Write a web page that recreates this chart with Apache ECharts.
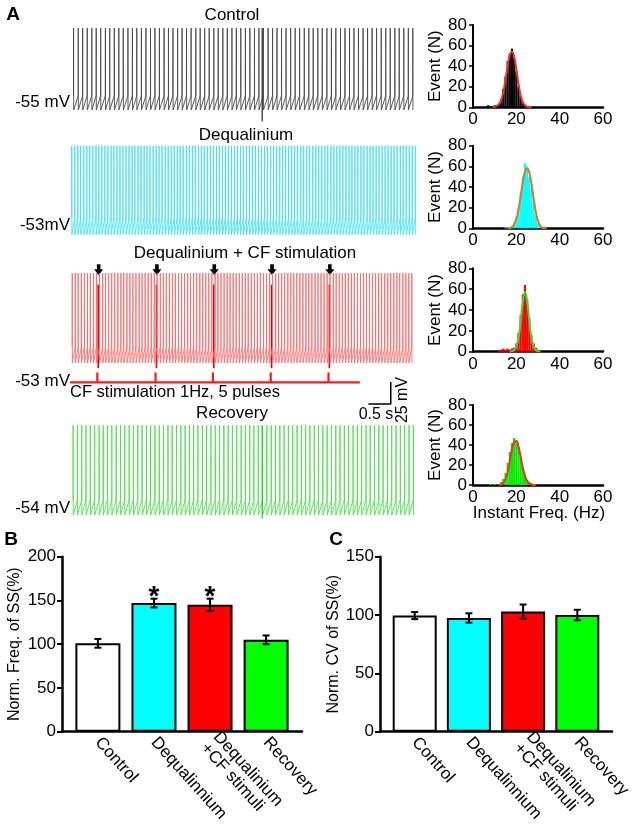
<!DOCTYPE html>
<html><head><meta charset="utf-8">
<script src="https://cdn.jsdelivr.net/npm/echarts@6/dist/echarts.min.js"></script>
<style>html,body{margin:0;padding:0;background:#fff}#c{width:638px;height:835px}</style>
</head><body><div id="c"></div>
<script>
const FONT = '"Liberation Sans", Arial, Helvetica, sans-serif';

// ---------- Panel A: spike trains (inter-spike intervals in ms) ----------
const traceTitles = ['Control', 'Dequalinium', 'Dequalinium + CF stimulation', 'Recovery'];
const restLabels = ['-55 mV', '-53mV', '-53 mV', '-54 mV'];
const restMV = [-55, -53, -53, -54];
const traceColors = ['#4a4a4a', '#3fe3f0', '#ff6b6b', '#4fe04f'];
// [threshold, peak, trough] mV
const controlLevels = [-48, 29, -64];
const dequalLevels = [-45, 37, -64];
const cfLevels = [-44, 40, -62];
const recoveryLevels = [-45, 40, -62];
const controlStart = 0.08, dequalStart = 0.04, cfStart = 0.05, recoveryStart = 0.07;
const controlISI = [104,99,101,103,98,100,105,97,102,101,99,104,100,98,103,101,102,99,100,104,98,101,103,100,99,102,105,98,100,101,103,99,102,100,104,97,101,102,100,103,99,101,104,100,98,102,101,103,100,99,105,101,98,102,100,103,101,99,104,100,102,98,101,103,100,102,99,104,101,100,103,98,102,101,100];
const dequalISI = [66,69,64,70,67,65,68,71,63,67,69,66,72,64,68,67,65,70,66,68,63,71,67,69,65,66,70,68,64,67,72,65,68,66,69,64,67,71,66,68,65,70,67,63,69,68,66,71,64,67,68,65,70,67,66,69,63,68,72,66,67,64,69,68,65,71,66,67,70,64,68,66,69,65,67,72,63,68,66,70,67,65,69,68,64,71,66,67,69,65,68,70,64,67,66,69,65,72,67,66,68,64,70,67,65,69,66,68,71,64,67,69,66,68];
const cfISI = [68,65,71,67,69,64,70,66,68,72,65,67,69,66,71,68,64,70,67,66,69,73,65,68,66,70,67,64,71,68,66,69,67,65,72,68,66,70,64,69,67,71,65,68,66,69,73,64,67,70,68,65,69,67,71,66,68,64,70,67,69,65,72,66,68,67,70,64,69,66,71,68,65,67,70,66,69,64,68,72,65,67,69,68,66,71,64,70,67,68,66,69,65,72,67,68,64,70,66,69,68,65,71,67,66,69,68,64,70,67,66,68];
const recoveryISI = [95,98,94,97,96,99,93,97,95,98,96,94,99,95,97,96,98,93,96,97,95,99,94,96,98,95,97,93,96,99,94,97,96,95,98,96,94,97,99,95,96,93,98,96,95,97,94,99,96,95,97,98,94,96,95,99,93,97,96,98,95,94,97,96,99,95,96,98,93,97,96,95,98,94,97,96,95,99,96];
// marked sweeps (darker lines) [time s, top mV, bottom mV]
const controlMark = [4.29, 29, -77];
const recoveryMark = [4.29, 40, -66];
// CF stimulation
const stimTimes = [0.61, 1.91, 3.19, 4.48, 5.77];
const stimResponse = [27, -68];       // complex-spike line top/bottom mV
const stimLineMV = -84, stimPulseMV = 11, stimLineEnd = 6.47;
const arrowMV = 44;
const scaleBar = [6.66, -108.7, 0.5, 25]; // t0, v0, 0.5 s, 25 mV

// ---------- Histograms (Instant Freq., 1 Hz bins) ----------
const controlHistBins = [7,8,9,10,11,12,13,14,15,16,17,18,19,20,21,22,23,24,25];
const controlHistCounts = [2,1,1,2,2,3,8,18,30,45,52,57,48,35,20,10,4,2,1];
const controlFitFreq = [9,10,11,12,13,14,15,16,17,18,19,20,21,22,23,24,25,26,27];
const controlFitCount = [0,0.5,1.5,3,7,15,27,40,51,54,49,37,23,12,5,2,0.5,0,0];
const dequalHistBins = [15,16,17,18,19,20,21,22,23,24,25,26,27,28,29,30,31];
const dequalHistCounts = [1,1,1,2,5,10,20,35,50,63,60,50,38,25,13,5,2];
const dequalFitFreq = [16,17,18,19,20,21,22,23,24,25,26,27,28,29,30,31,32,33,34];
const dequalFitCount = [0,0.3,1,4,9,18,31,45,55,58,54,43,29,16,7,2.5,0.5,0,0];
const cfHistBins = [12,13,14,15,16,17,18,19,20,21,22,23,24,25,26,27,28,29,30,31];
const cfHistCounts = [1,2,3,2,3,2,3,4,8,18,35,55,64,50,32,16,8,4,2,1];
const cfFitFreq = [17,18,19,20,21,22,23,24,25,26,27,28,29,30,31];
const cfFitCount = [0,0.5,1.5,5,13,29,48,57,48,29,13,5,1.5,0.5,0];
const recoveryHistBins = [8,10,12,13,14,15,16,17,18,19,20,21,22,23,24,25,26,27,28];
const recoveryHistCounts = [1,1,1,3,6,12,22,33,42,47,44,38,28,18,10,5,3,2,1];
const recoveryFitFreq = [12,13,14,15,16,17,18,19,20,21,22,23,24,25,26,27,28,29];
const recoveryFitCount = [0,0.5,2,6,13,24,36,43,44,38,28,17,9,4,1.5,0.5,0,0];
const histTicks = [0, 20, 40, 60];

// ---------- Panels B and C ----------
const barCategories = ['Control', 'Dequalinnium', 'Dequalinium\n+CF stimuli', 'Recovery'];
const freqMean = [101, 147, 145, 105];
const freqSem = [5, 5, 7, 5];
const freqSig = ['', '*', '*', ''];
const cvMean = [99.5, 97.5, 103, 100];
const cvSem = [3, 4, 6, 4.5];
const cvSig = ['', '', '', ''];
const barColors = ['#ffffff', '#00ffff', '#ff0000', '#00ff00'];

// ---------- build ----------
const K = 0.88, PXS = 44.8, TL = 70, TW = 346;
function traceGrid(anchorMV, anchorY, min, max) {
  return { left: TL, width: TW, top: anchorY - (max - anchorMV) * K, height: (max - min) * K };
}
function buildTrace(t0, isi, lv) {
  const pts = []; let t = t0;
  for (let i = 0; i <= isi.length; i++) {
    pts.push([t - 0.002, lv[0]], [t, lv[1]], [t + 0.002, lv[2]]);
    if (i < isi.length) t += isi[i] / 1000;
  }
  return pts;
}
const traceRanges = [[-85, 45], [-85, 45], [-115, 45], [-85, 45]];
const traceAnchorY = [102, 225, 355, 508];
const grids = [], xAxes = [], yAxes = [], series = [];
for (let i = 0; i < 4; i++) {
  grids.push(traceGrid(restMV[i], traceAnchorY[i], traceRanges[i][0], traceRanges[i][1]));
  xAxes.push({ gridIndex: i, type: 'value', min: 0, max: TW / PXS, show: false });
  yAxes.push({ gridIndex: i, type: 'value', min: traceRanges[i][0], max: traceRanges[i][1], show: false });
}
const traceData = [
  buildTrace(controlStart, controlISI, controlLevels),
  buildTrace(dequalStart, dequalISI, dequalLevels),
  buildTrace(cfStart, cfISI, cfLevels),
  buildTrace(recoveryStart, recoveryISI, recoveryLevels)
];
traceData.forEach((d, i) => series.push({
  type: 'line', xAxisIndex: i, yAxisIndex: i, data: d, showSymbol: false, silent: true,
  lineStyle: { color: traceColors[i], width: 0.9 }
}));
series.push({ type: 'line', xAxisIndex: 0, yAxisIndex: 0, showSymbol: false, silent: true,
  data: [[controlMark[0], controlMark[1]], [controlMark[0], controlMark[2]]], lineStyle: { color: '#222', width: 1.2 } });
series.push({ type: 'line', xAxisIndex: 3, yAxisIndex: 3, showSymbol: false, silent: true,
  data: [[recoveryMark[0], recoveryMark[1]], [recoveryMark[0], recoveryMark[2]]], lineStyle: { color: '#22cc22', width: 1.2 } });
// CF responses
series.push({ type: 'custom', xAxisIndex: 2, yAxisIndex: 2, silent: true,
  data: stimTimes.map(t => [t + 0.02]),
  renderItem: (p, api) => {
    const a = api.coord([api.value(0), stimResponse[0]]), b = api.coord([api.value(0), stimResponse[1]]);
    return { type: 'line', shape: { x1: a[0], y1: a[1], x2: b[0], y2: b[1] }, style: { stroke: '#e00000', lineWidth: 1.6 } };
  } });
// stimulation line
const stimData = [[0, stimLineMV]];
stimTimes.forEach(t => { stimData.push([t, stimLineMV], [t, stimLineMV + stimPulseMV], [t + 0.001, stimLineMV + stimPulseMV], [t + 0.001, stimLineMV]); });
stimData.push([stimLineEnd, stimLineMV]);
series.push({ type: 'line', xAxisIndex: 2, yAxisIndex: 2, data: stimData, showSymbol: false, silent: true,
  lineStyle: { color: '#ff1a1a', width: 2.2 } });
// arrows
series.push({ type: 'scatter', xAxisIndex: 2, yAxisIndex: 2, silent: true, clip: false,
  data: stimTimes.map(t => [t + 0.03, arrowMV]),
  symbol: 'path://M3,0 L7,0 L7,5 L10,5 L5,11 L0,5 L3,5 Z', symbolSize: [9, 11],
  itemStyle: { color: '#000', opacity: 1 } });
// scale bar
series.push({ type: 'line', xAxisIndex: 2, yAxisIndex: 2, showSymbol: false, silent: true,
  data: [[scaleBar[0], scaleBar[1]], [scaleBar[0] + scaleBar[2], scaleBar[1]], [scaleBar[0] + scaleBar[2], scaleBar[1] + scaleBar[3]]],
  lineStyle: { color: '#000', width: 1.5 } });

// histograms
const histTops = [25, 145.7, 268.3, 405];
const histHeights = [82.3, 82.6, 83.4, 80];
const histBars = [[controlHistBins, controlHistCounts], [dequalHistBins, dequalHistCounts], [cfHistBins, cfHistCounts], [recoveryHistBins, recoveryHistCounts]];
const histFits = [[controlFitFreq, controlFitCount], [dequalFitFreq, dequalFitCount], [cfFitFreq, cfFitCount], [recoveryFitFreq, recoveryFitCount]];
const histBarColors = ['#000000', '#00ffff', '#ff0000', '#00ee00'];
const histFitColors = ['#ff2a2a', '#e8731e', '#33dd33', '#ff2a2a'];
for (let h = 0; h < 4; h++) {
  const gi = 4 + h;
  grids.push({ left: 473, width: 130, top: histTops[h], height: histHeights[h] });
  xAxes.push({ gridIndex: gi, type: 'value', min: 0, max: 60, interval: 20,
    axisLine: { show: true, lineStyle: { color: '#000', width: 2.5 } }, axisTick: { show: false }, splitLine: { show: false },
    axisLabel: { color: '#000', fontSize: 17, fontFamily: FONT, margin: 4 } });
  yAxes.push({ gridIndex: gi, type: 'value', min: 0, max: 80, interval: 20,
    axisLine: { show: true, onZero: false, lineStyle: { color: '#000', width: 2 } },
    axisTick: { show: true, length: 4, lineStyle: { color: '#000', width: 1.5 } }, splitLine: { show: false },
    axisLabel: { color: '#000', fontSize: 17, fontFamily: FONT, margin: 6 },
    name: 'Event (N)', nameLocation: 'middle', nameGap: 29,
    nameTextStyle: { color: '#000', fontSize: 17, fontFamily: FONT } });
  const col = histBarColors[h];
  series.push({ type: 'custom', xAxisIndex: gi, yAxisIndex: gi, silent: true, z: 2,
    data: histBars[h][0].map((f, k) => [f, histBars[h][1][k]]),
    renderItem: (p, api) => {
      const f = api.value(0), c = api.value(1);
      const a = api.coord([f - 0.5, c]), b = api.coord([f + 0.5, 0]);
      return { type: 'rect', shape: { x: a[0], y: a[1], width: b[0] - a[0], height: b[1] - a[1] }, style: { fill: col } };
    } });
  series.push({ type: 'line', xAxisIndex: gi, yAxisIndex: gi, silent: true, smooth: true, showSymbol: false, z: 5,
    data: histFits[h][0].map((f, k) => [f, histFits[h][1][k]]), lineStyle: { color: histFitColors[h], width: 2 } });
}

// bar charts
function errRender(sig) {
  return (p, api) => {
    const x = api.value(0), m = api.value(1), e = api.value(2);
    const t = api.coord([x, m + e]), b = api.coord([x, m - e]);
    const hw = 3.5;
    const ch = [
      { type: 'line', shape: { x1: t[0], y1: t[1], x2: b[0], y2: b[1] }, style: { stroke: '#000', lineWidth: 2 } },
      { type: 'line', shape: { x1: t[0] - hw, y1: t[1], x2: t[0] + hw, y2: t[1] }, style: { stroke: '#000', lineWidth: 2 } },
      { type: 'line', shape: { x1: b[0] - hw, y1: b[1], x2: b[0] + hw, y2: b[1] }, style: { stroke: '#000', lineWidth: 2 } }
    ];
    if (sig[p.dataIndex]) ch.push({ type: 'text', style: { text: sig[p.dataIndex], x: t[0], y: t[1] - 1,
      textAlign: 'center', textVerticalAlign: 'middle', font: 'bold 28px ' + FONT, fill: '#000' } });
    return { type: 'group', children: ch };
  };
}
const barPanels = [
  { left: 62, width: 240, max: 200, name: 'Norm. Freq. of SS(%)', gap: 39, mean: freqMean, sem: freqSem, sig: freqSig, bw: 45 },
  { left: 380, width: 232, max: 150, name: 'Norm. CV of SS(%)', gap: 35, mean: cvMean, sem: cvSem, sig: cvSig, bw: 44 }
];
barPanels.forEach((bp, j) => {
  const gi = 8 + j;
  grids.push({ left: bp.left, width: bp.width, top: 556.7, height: 175 });
  xAxes.push({ gridIndex: gi, type: 'value', min: -0.64, max: 3.64,
    axisLine: { show: true, lineStyle: { color: '#000', width: 2.5 } }, axisTick: { show: false }, splitLine: { show: false },
    axisLabel: { customValues: [0, 1, 2, 3], formatter: v => barCategories[Math.round(v)], rotate: -48, margin: 8,
      color: '#000', fontSize: 17, fontFamily: FONT, lineHeight: 17 } });
  yAxes.push({ gridIndex: gi, type: 'value', min: 0, max: bp.max, interval: 50,
    axisLine: { show: true, onZero: false, lineStyle: { color: '#000', width: 2.5 } },
    axisTick: { show: true, length: 5, lineStyle: { color: '#000', width: 2 } }, splitLine: { show: false },
    axisLabel: { color: '#000', fontSize: 17, fontFamily: FONT, margin: 6 },
    name: bp.name, nameLocation: 'middle', nameGap: bp.gap,
    nameTextStyle: { color: '#000', fontSize: 16, fontFamily: FONT } });
  series.push({ type: 'bar', xAxisIndex: gi, yAxisIndex: gi, silent: true, barWidth: bp.bw,
    data: bp.mean.map((v, i) => [i, v]),
    itemStyle: { color: p => barColors[p.dataIndex], borderColor: '#000', borderWidth: 2 } });
  series.push({ type: 'custom', xAxisIndex: gi, yAxisIndex: gi, silent: true, z: 5,
    data: bp.mean.map((v, i) => [i, v, bp.sem[i]]), renderItem: errRender(bp.sig) });
});

// text
function txt(text, x, y, size, opts) {
  return Object.assign({ type: 'text', silent: true, style: { text, x, y, font: size + 'px ' + FONT, fill: '#000',
    textAlign: 'center', textVerticalAlign: 'middle' } }, opts || {});
}
const graphics = [
  txt('A', 13, 15, 19, {}), txt('B', 11, 540, 19, {}), txt('C', 336, 540, 19, {}),
  txt(traceTitles[0], 232, 15, 17), txt(traceTitles[1], 246, 135, 17),
  txt(traceTitles[2], 245, 253, 17), txt(traceTitles[3], 232, 413, 17),
  txt('CF stimulation 1Hz, 5 pulses', 70, 392, 16.5),
  txt('0.5 s', 376, 415, 16),
  txt('Instant Freq. (Hz)', 539, 513, 17)
];
graphics[0].style.font = 'bold 19px ' + FONT; graphics[1].style.font = 'bold 19px ' + FONT; graphics[2].style.font = 'bold 19px ' + FONT;
graphics[7].style.textAlign = 'left';
const labelYs = [102, 225, 381, 508];
restLabels.forEach((l, i) => { const g = txt(l, 70, labelYs[i], 17); g.style.textAlign = 'right'; graphics.push(g); });
graphics.push({ type: 'text', silent: true, x: 403, y: 400, rotation: Math.PI / 2,
  style: { text: '25 mV', x: 0, y: 0, font: '16px ' + FONT, fill: '#000', textAlign: 'center', textVerticalAlign: 'middle' } });

const chart = echarts.init(document.getElementById('c'), null, { renderer: 'canvas' });
chart.setOption({ animation: false, backgroundColor: '#fff', grid: grids, xAxis: xAxes, yAxis: yAxes, series, graphic: graphics });
</script></body></html>
